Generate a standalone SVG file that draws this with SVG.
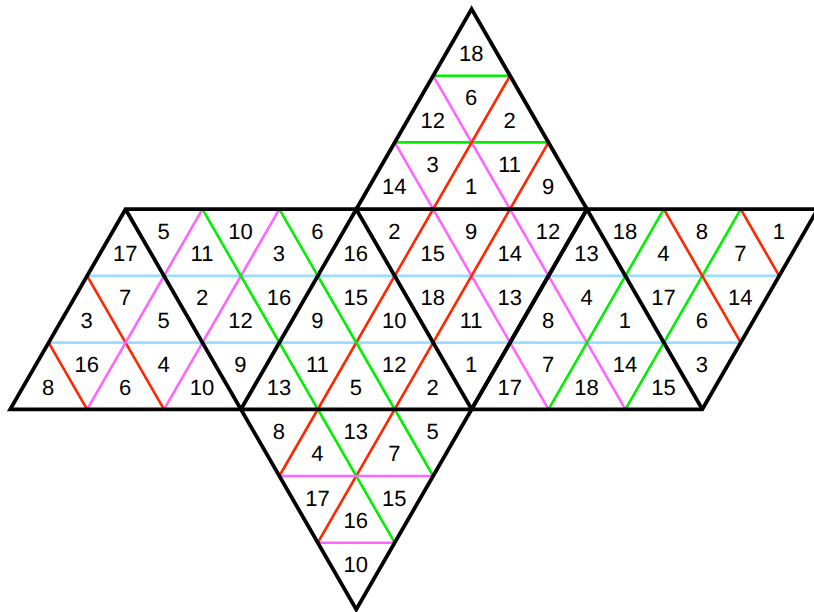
<svg xmlns="http://www.w3.org/2000/svg" width="814" height="612" viewBox="0 0 814 612">
<style>
.l{fill:none;stroke-width:2.6;stroke-linecap:butt}
.b{stroke:#99ddff}.g{stroke:#00f000}.r{stroke:#ff2600}.m{stroke:#ff66ff}
.k{fill:none;stroke:#000;stroke-width:3.8;stroke-linejoin:miter;stroke-miterlimit:10}
text{font-family:"Liberation Sans",Arial,Helvetica,sans-serif;font-size:22px;text-anchor:middle;fill:#000;text-rendering:geometricPrecision}
</style>
<rect width="814" height="612" fill="#fff"/>
<g id="connectors">
<path class="l b" d="M87.1 275.9H779.2M48.65 342.6H740.75"/>
<path class="l g" d="M433.15 75.7H510.05M394.7 142.4H548.5"/>
<path class="l m" d="M433.15 75.7L625.4 409.3M394.7 142.4L548.5 409.3"/>
<path class="l r" d="M510.05 75.7L279.35 476M548.5 142.4L317.8 542.7"/>
<path class="l r" d="M87.1 275.9L164 409.3M48.65 342.6L87.1 409.3"/>
<path class="l m" d="M202.45 209.2L87.1 409.3M279.35 209.2L164 409.3"/>
<path class="l g" d="M202.45 209.2L394.7 542.7M279.35 209.2L433.15 476"/>
<path class="l g" d="M663.85 209.2L548.5 409.3M740.75 209.2L625.4 409.3"/>
<path class="l r" d="M663.85 209.2L740.75 342.6M740.75 209.2L779.2 275.9"/>
<path class="l m" d="M279.35 476H433.15M317.8 542.7H394.7"/>
</g>
<g id="outline">
<path class="k" d="M356.25 209.2L471.6 9L586.95 209.2"/>
<path class="k" d="M817.65 209.2H125.55L10.2 409.3H702.3L817.65 209.2"/>
<path class="k" d="M125.55 209.2L356.25 609.4L586.95 209.2"/>
<path class="k" d="M240.9 409.3L356.25 209.2L471.6 409.3L586.95 209.2L702.3 409.3"/>
</g>
<g id="labels" transform="translate(-0.4 0)">
<text x="471.6" y="61">18</text>
<text x="433.15" y="127.7">12</text><text x="471.6" y="105.2">6</text><text x="510.05" y="127.7">2</text>
<text x="394.7" y="194.4">14</text><text x="433.15" y="171.9">3</text><text x="471.6" y="194.4">1</text><text x="510.05" y="171.9">11</text><text x="548.5" y="194.4">9</text>
<text x="125.55" y="261.2">17</text><text x="164" y="238.7">5</text><text x="202.45" y="261.2">11</text><text x="240.9" y="238.7">10</text><text x="279.35" y="261.2">3</text><text x="317.8" y="238.7">6</text><text x="356.25" y="261.2">16</text><text x="394.7" y="238.7">2</text><text x="433.15" y="261.2">15</text><text x="471.6" y="238.7">9</text><text x="510.05" y="261.2">14</text><text x="548.5" y="238.7">12</text><text x="586.95" y="261.2">13</text><text x="625.4" y="238.7">18</text><text x="663.85" y="261.2">4</text><text x="702.3" y="238.7">8</text><text x="740.75" y="261.2">7</text><text x="779.2" y="238.7">1</text>
<text x="87.1" y="327.9">3</text><text x="125.55" y="305.4">7</text><text x="164" y="327.9">5</text><text x="202.45" y="305.4">2</text><text x="240.9" y="327.9">12</text><text x="279.35" y="305.4">16</text><text x="317.8" y="327.9">9</text><text x="356.25" y="305.4">15</text><text x="394.7" y="327.9">10</text><text x="433.15" y="305.4">18</text><text x="471.6" y="327.9">11</text><text x="510.05" y="305.4">13</text><text x="548.5" y="327.9">8</text><text x="586.95" y="305.4">4</text><text x="625.4" y="327.9">1</text><text x="663.85" y="305.4">17</text><text x="702.3" y="327.9">6</text><text x="740.75" y="305.4">14</text>
<text x="48.65" y="394.6">8</text><text x="87.1" y="372.1">16</text><text x="125.55" y="394.6">6</text><text x="164" y="372.1">4</text><text x="202.45" y="394.6">10</text><text x="240.9" y="372.1">9</text><text x="279.35" y="394.6">13</text><text x="317.8" y="372.1">11</text><text x="356.25" y="394.6">5</text><text x="394.7" y="372.1">12</text><text x="433.15" y="394.6">2</text><text x="471.6" y="372.1">1</text><text x="510.05" y="394.6">17</text><text x="548.5" y="372.1">7</text><text x="586.95" y="394.6">18</text><text x="625.4" y="372.1">14</text><text x="663.85" y="394.6">15</text><text x="702.3" y="372.1">3</text>
<text x="279.35" y="438.8">8</text><text x="317.8" y="461.3">4</text><text x="356.25" y="438.8">13</text><text x="394.7" y="461.3">7</text><text x="433.15" y="438.8">5</text>
<text x="317.8" y="505.5">17</text><text x="356.25" y="528">16</text><text x="394.7" y="505.5">15</text>
<text x="356.25" y="572.2">10</text>
</g>
</svg>
